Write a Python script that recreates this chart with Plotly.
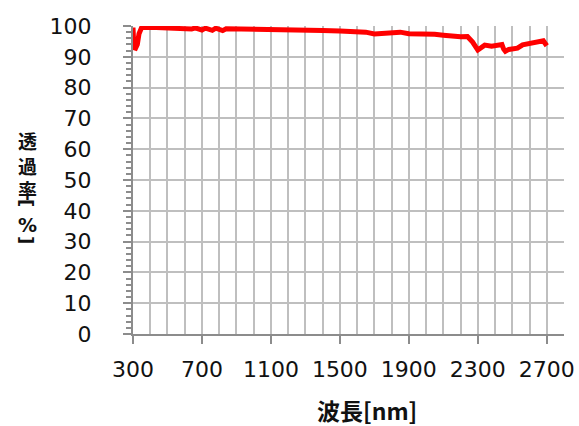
import plotly.graph_objects as go

wavelength_nm = [300, 302, 305, 315, 325, 335, 350, 400, 500, 600, 640, 660, 700, 720,
                 760, 780, 800, 820, 840, 900, 1000, 1100, 1200, 1300, 1400, 1500, 1600,
                 1650, 1700, 1750, 1800, 1850, 1900, 1950, 2000, 2050, 2100, 2150, 2200,
                 2240, 2270, 2300, 2320, 2340, 2380, 2420, 2440, 2450, 2460, 2480, 2500,
                 2530, 2560, 2600, 2640, 2680, 2700]
transmittance = [99.5, 97.0, 93.0, 92.8, 94.0, 97.5, 99.5, 99.6, 99.4, 99.3, 99.0, 99.4,
                 98.7, 99.3, 98.6, 99.3, 99.1, 98.5, 99.1, 99.0, 98.9, 98.8, 98.7, 98.6,
                 98.5, 98.4, 98.2, 98.0, 97.4, 97.6, 97.9, 98.0, 97.5, 97.5, 97.6, 97.3,
                 97.0, 96.6, 96.5, 96.6, 94.8, 92.2, 93.0, 93.8, 93.4, 93.6, 94.0, 92.5,
                 91.8, 92.4, 92.5, 92.8, 93.9, 94.3, 94.6, 95.2, 93.6]

x_title = "波長[nm]"
y_title_word = ["透", "過", "率"]
y_title_unit = ["[", "%", "]"]

fig = go.Figure()
fig.add_trace(go.Scatter(x=wavelength_nm, y=transmittance, mode="lines",
                         line=dict(color="#ff0000", width=5), showlegend=False))

axis_col = "#8c8c8c"
grid_col = "#bfbfbf"
tick_font = dict(family="DejaVu Sans", size=22, color="#111111")

L, R, T, B = 133, 15, 26, 92
W, H = 579, 426
pw, ph = W - L - R, H - T - B

fig.update_layout(
    width=W, height=H,
    margin=dict(l=L, r=R, t=T, b=B, autoexpand=False),
    paper_bgcolor="white", plot_bgcolor="white",
    xaxis=dict(range=[300, 2800], tick0=300, dtick=400, showgrid=True,
               gridcolor=grid_col, gridwidth=1.5,
               showline=True, linecolor=axis_col, linewidth=2,
               ticks="outside", ticklen=8, tickcolor=axis_col, tickwidth=2,
               tickfont=tick_font, ticklabelstandoff=7, zeroline=False,
               minor=dict(dtick=100, tick0=300, showgrid=True, gridcolor=grid_col,
                          gridwidth=1.5, ticks="")),
    yaxis=dict(range=[0, 100], dtick=10, showgrid=True,
               gridcolor=grid_col, gridwidth=1.5,
               showline=True, linecolor=axis_col, linewidth=2,
               ticks="outside", ticklen=8, tickcolor=axis_col, tickwidth=2,
               tickfont=tick_font, ticklabelstandoff=27, zeroline=False,
               minor=dict(dtick=2, ticks="outside", ticklen=5, tickcolor=axis_col,
                          tickwidth=2, showgrid=False)),
)

def px_x(v):
    return (v - L) / pw

def px_y(v):
    return (H - B - v) / ph

fig.add_annotation(text="<b>" + x_title + "</b>", xref="paper", yref="paper",
                   x=px_x(367), y=px_y(410), showarrow=False,
                   xanchor="center", yanchor="middle",
                   font=dict(family="Noto Sans CJK JP", size=23, color="#111111"))

# vertical (stacked) y-axis title: 透過率[%]
fig.add_annotation(text="<b>" + "<br>".join(y_title_word) + "</b>", xref="paper", yref="paper",
                   x=px_x(27), y=px_y(165), showarrow=False,
                   xanchor="center", yanchor="middle",
                   font=dict(family="Noto Sans CJK JP", size=19, color="#111111"))
unit_pos = [203, 225, 240]
for ch, yy in zip(y_title_unit, unit_pos):
    rotated = ch in "[]"
    fig.add_annotation(text="<b>" + ch + "</b>", xref="paper", yref="paper",
                       x=px_x(27), y=px_y(yy), showarrow=False,
                       xanchor="center", yanchor="middle",
                       textangle=90 if rotated else 0,
                       font=dict(family="DejaVu Sans", size=19 if not rotated else 18,
                                 color="#111111"))

fig.write_html("out.html", config={"displayModeBar": False},
               post_script="document.body.style.margin='0';")
